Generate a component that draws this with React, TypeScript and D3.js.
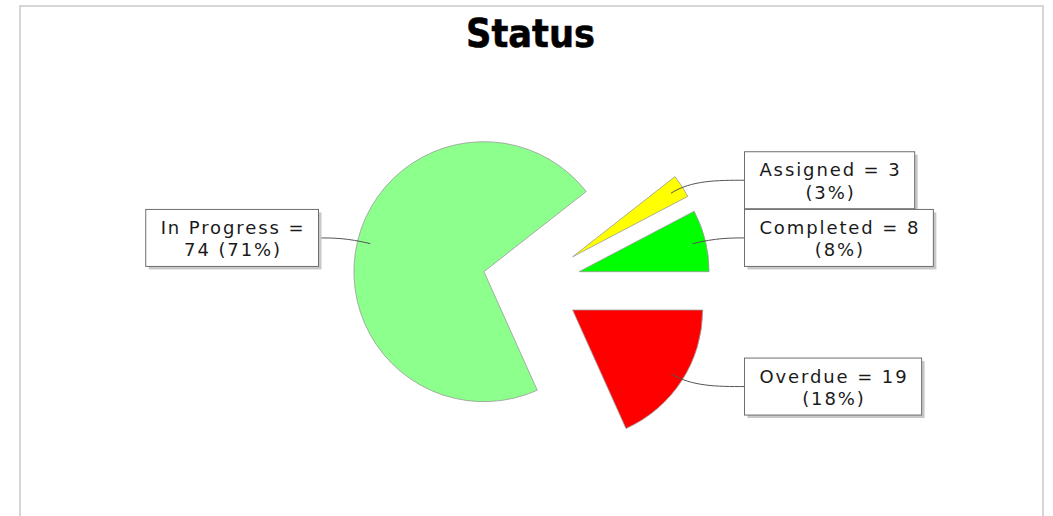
import React, { useEffect, useRef } from 'react';
import * as d3 from 'd3';

const TITLE = 'Status';
const categories = ['Overdue', 'In Progress', 'Assigned', 'Completed'];
const values = [19, 74, 3, 8];
const colors = ['#FF0000', '#8CFF8C', '#FFFF00', '#00FF00'];

const W = 1053;
const H = 516;
const CX = 531.5;
const CY = 283.4;
const R = 130;
const EXPLODE = 49;
const LINK_R = 190;
const LABEL_DX = 213;
const BOX_H = 57;
const PAD_X = 14;

export default function App() {
  const ref = useRef<SVGSVGElement>(null);
  useEffect(() => {
    const svg = d3.select(ref.current);
    svg.selectAll('*').remove();
    svg.append('rect').attr('x', 0).attr('y', 0).attr('width', W).attr('height', H).attr('fill', '#fff');
    svg.append('rect').attr('x', 20).attr('y', 6).attr('width', 1023).attr('height', H + 40)
      .attr('fill', '#fff').attr('stroke', '#d6d6d6').attr('stroke-width', 2);

    svg.append('text').attr('x', 530.5).attr('y', 47).attr('text-anchor', 'middle')
      .attr('font-family', 'DejaVu Sans').attr('font-weight', 'bold').attr('font-size', 39)
      .attr('textLength', 129).attr('lengthAdjust', 'spacingAndGlyphs')
      .attr('stroke', '#000').attr('stroke-width', 0.6)
      .attr('fill', '#000').text(TITLE);

    const total = d3.sum(values);
    const pie = d3.pie<number>().sort(null).value(d => d)
      .startAngle(Math.PI / 2).endAngle(Math.PI / 2 + 2 * Math.PI);
    const arcs = pie(values);
    const arc = d3.arc<d3.PieArcDatum<number>>().innerRadius(0).outerRadius(R);

    const g = svg.append('g').attr('transform', `translate(${CX},${CY})`);
    arcs.forEach((a, i) => {
      const m = (a.startAngle + a.endAngle) / 2;
      const ux = Math.sin(m), uy = -Math.cos(m);
      g.append('path').attr('d', arc(a) as string)
        .attr('transform', `translate(${ux * EXPLODE},${uy * EXPLODE})`)
        .attr('fill', colors[i]).attr('stroke', '#9a9a9a').attr('stroke-width', 0.8);
    });

    const links = svg.append('g');
    const labels = svg.append('g');
    arcs.forEach((a, i) => {
      const m = (a.startAngle + a.endAngle) / 2;
      const ux = Math.sin(m), uy = -Math.cos(m);
      const right = ux > 0;
      const lx = CX + ux * (EXPLODE + 0.9 * R), ly = CY + uy * (EXPLODE + 0.9 * R);
      const ex = CX + ux * LINK_R, ey = CY + uy * LINK_R;
      const tx = right ? CX + LABEL_DX : CX - LABEL_DX, ty = ey;
      const ax = (ex + tx) / 2;
      links.append('path')
        .attr('d', `M${lx},${ly} C${ex},${ey} ${ax},${ty} ${tx},${ty}`)
        .attr('fill', 'none').attr('stroke', '#555').attr('stroke-width', 1);

      const pct = `(${Math.round(values[i] / total * 100)}%)`;
      const lines = categories[i] === 'In Progress'
        ? [`${categories[i]} =`, `${values[i]} ${pct}`]
        : [`${categories[i]} = ${values[i]}`, pct];
      const box = labels.append('g');
      const shadow = box.append('rect');
      const rect = box.append('rect');
      const texts = lines.map(l => box.append('text')
        .attr('font-family', 'DejaVu Sans').attr('font-size', 18).attr('letter-spacing', 1.9)
        .attr('fill', '#1a1a1a').attr('text-anchor', 'middle').text(l));
      const tw = d3.max(texts, t => (t.node() as SVGTextElement).getComputedTextLength()) || 0;
      const bw = tw + 2 * PAD_X;
      const bx = right ? tx : tx - bw;
      const by = ty - BOX_H / 2;
      shadow.attr('x', bx + 3).attr('y', by + 3).attr('width', bw).attr('height', BOX_H).attr('fill', '#c8c8c8');
      rect.attr('x', bx).attr('y', by).attr('width', bw).attr('height', BOX_H)
        .attr('fill', '#fff').attr('stroke', '#6e6e6e').attr('stroke-width', 1);
      texts.forEach((t, k) => t.attr('x', bx + bw / 2 + 0.9).attr('y', by + 24.5 + k * 22.5));
    });
  }, []);
  return <svg ref={ref} width={W} height={H} style={{ position: 'absolute', left: 0, top: 0 }} />;
}
